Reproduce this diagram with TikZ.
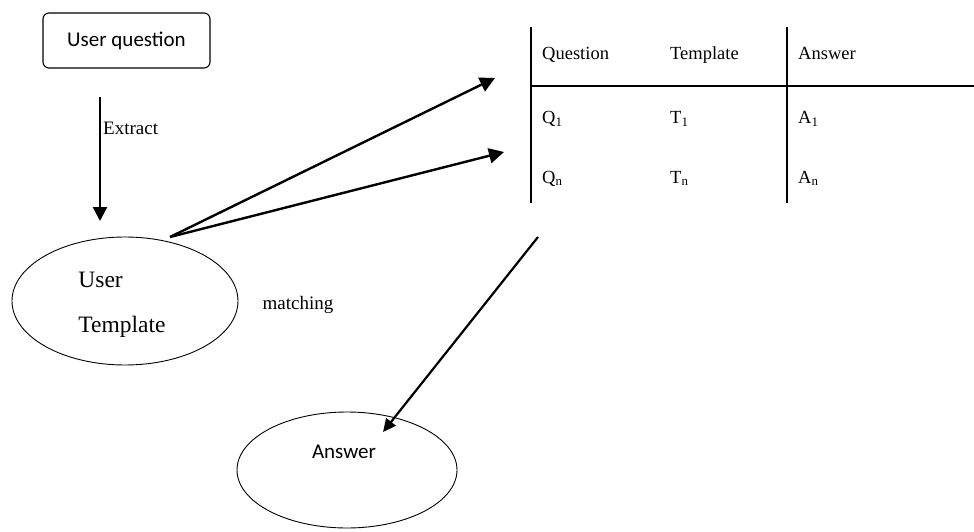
\documentclass[tikz,border=0pt]{standalone}
\usepackage{fontspec}
\setmainfont{Liberation Serif}
\newfontfamily\carl{Carlito}
\usetikzlibrary{shapes.geometric,arrows.meta}
\begin{document}
\begin{tikzpicture}[x=1pt,y=-1pt,
  sanslbl/.style={font=\carl\fontsize{21}{24}\selectfont,inner sep=0pt},
  seriflbl/.style={font=\fontsize{19}{22}\selectfont,inner sep=0pt},
  celltxt/.style={font=\fontsize{18.5}{22}\selectfont,inner sep=0pt,anchor=base west},
  bubble/.style={draw,ellipse,line width=0.9pt,inner sep=0pt},
  thickarrow/.style={line width=2.4pt,-{Triangle[length=15pt,width=15pt]}},
  tableline/.style={line width=1.2pt}]
\useasboundingbox (0,0) rectangle (974,532);
% User question box
\node[draw,rounded corners=6pt,line width=1.1pt,minimum width=167pt,minimum height=55pt,
      sanslbl] (uq) at (126.5,40.5) {User question};
% Extract arrow
\coordinate (ex1) at (100,97);
\coordinate (ex2) at (100,221);
\draw[line width=2.4pt,-{Triangle[length=14pt,width=14pt]}] (ex1) -- (ex2);
\node[seriflbl,anchor=west] (extract) at (103,128) {Extract};
% User Template ellipse
\node[bubble,minimum width=226pt,minimum height=128pt] (ut) at (125,301) {};
\node[inner sep=0pt,align=left,font=\fontsize{23.5}{45}\selectfont] (uttext) at (122,305) {User\\Template};
\node[seriflbl] (matching) at (298,305) {matching};
% arrows to table
\coordinate (ms) at (170,237);
\coordinate (t1) at (495,78);
\coordinate (t2) at (504,152);
\draw[thickarrow] (ms) -- (t1);
\draw[thickarrow] (ms) -- (t2);
% table
\coordinate (va1) at (531,27);
\coordinate (va2) at (531,203);
\coordinate (vb1) at (787,27);
\coordinate (vb2) at (787,203);
\coordinate (h1) at (531,86);
\coordinate (h2) at (974,86);
\draw[tableline] (va1) -- (va2);
\draw[tableline] (vb1) -- (vb2);
\draw[tableline] (h1) -- (h2);
\node[celltxt] (hq) at (542,60) {Question};
\node[celltxt] (ht) at (670,60) {Template};
\node[celltxt] (ha) at (798,60) {Answer};
\node[celltxt] (q1) at (542,124) {Q\textsubscript{1}};
\node[celltxt] (tt1) at (670,124) {T\textsubscript{1}};
\node[celltxt] (a1) at (798,124) {A\textsubscript{1}};
\node[celltxt] (qn) at (542,183) {Q\textsubscript{n}};
\node[celltxt] (ttn) at (670,183) {T\textsubscript{n}};
\node[celltxt] (an) at (798,183) {A\textsubscript{n}};
% answer arrow
\coordinate (as) at (538,237);
\coordinate (ae) at (383,432);
\draw[line width=2.2pt,-{Triangle[length=13pt,width=12pt]}] (as) -- (ae);
% Answer ellipse
\node[bubble,minimum width=220pt,minimum height=116pt] (ans) at (347,470) {};
\node[sanslbl] (anstext) at (344,452) {Answer};
\end{tikzpicture}
\end{document}
